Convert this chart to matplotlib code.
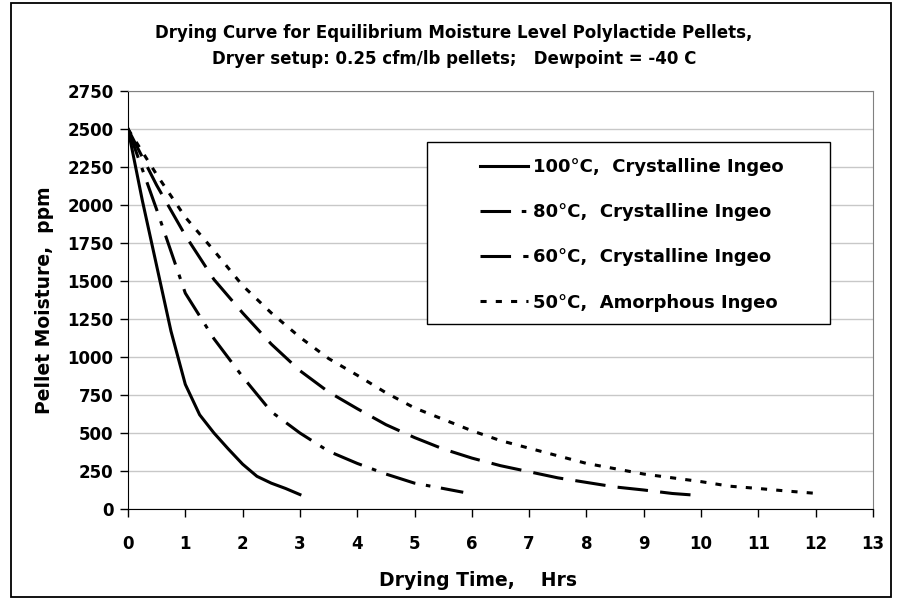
import matplotlib
matplotlib.use("Agg")
import matplotlib.pyplot as plt
from matplotlib.patches import Rectangle

plt.rcParams['font.family'] = ['DejaVu Sans']
plt.rcParams['font.weight'] = 'bold'

# drying time (hrs) and pellet moisture (ppm)
t_100 = [0, 0.25, 0.5, 0.75, 1.0, 1.25, 1.5, 1.75, 2.0, 2.25, 2.5, 2.75, 3.0]
m_100 = [2500, 2030, 1600, 1170, 820, 620, 500, 395, 295, 215, 170, 135, 95]

t_80 = [0, 0.5, 1.0, 1.5, 2.0, 2.5, 3.0, 3.5, 4.0, 4.5, 5.0, 5.5, 5.85]
m_80 = [2500, 1970, 1420, 1120, 870, 640, 500, 380, 300, 230, 170, 135, 110]

t_60 = [0, 0.5, 1.0, 1.5, 2.0, 2.5, 3.0, 3.5, 4.0, 4.5, 5.0, 5.5, 6.0, 6.5,
        7.0, 7.5, 8.0, 8.5, 9.0, 9.5, 10.0]
m_60 = [2500, 2130, 1800, 1510, 1290, 1085, 910, 770, 660, 555, 470, 395, 335,
        285, 245, 205, 175, 145, 125, 102, 88]

t_50 = [0, 0.5, 1.0, 1.5, 2.0, 2.5, 3.0, 3.5, 4.0, 4.5, 5.0, 5.5, 6.0, 6.5,
        7.0, 7.5, 8.0, 8.5, 9.0, 9.5, 10.0, 10.5, 11.0, 11.5, 12.0]
m_50 = [2500, 2200, 1920, 1700, 1470, 1290, 1130, 990, 880, 765, 665, 590, 515,
        450, 400, 350, 300, 265, 230, 205, 180, 150, 135, 118, 103]

labels = ['100°C,  Crystalline Ingeo', '80°C,  Crystalline Ingeo',
          '60°C,  Crystalline Ingeo', '50°C,  Amorphous Ingeo']

x_ticks = list(range(0, 14))
y_ticks = list(range(0, 2751, 250))

fig = plt.figure(figsize=(9.02, 6.0), dpi=100)
ax = fig.add_axes([128 / 902, 1 - 509 / 600, 745 / 902, 418 / 600])

lw = 2.2
ax.plot(t_100, m_100, color='black', lw=lw, label=labels[0])
ax.plot(t_80, m_80, color='black', lw=lw, dashes=(10, 3.5, 1.5, 3.5), label=labels[1])
ax.plot(t_60, m_60, color='black', lw=lw, dashes=(10, 4), label=labels[2])
ax.plot(t_50, m_50, color='black', lw=lw, dashes=(2, 3), label=labels[3])

ax.set_xlim(0, 13)
ax.set_ylim(0, 2750)
ax.set_xticks(x_ticks)
ax.set_yticks(y_ticks)
ax.tick_params(direction='out', length=5.5, width=1, labelsize=12)
ax.tick_params(axis='x', pad=13)
ax.tick_params(axis='y', pad=5)
for lab in ax.get_xticklabels() + ax.get_yticklabels():
    lab.set_fontweight('bold')

ax.yaxis.grid(True, color='#c8c8c8', lw=1)
ax.set_axisbelow(True)
for s in ['top', 'right']:
    ax.spines[s].set_color('#808080')
for s in ['left', 'bottom']:
    ax.spines[s].set_color('black')

ax.set_xlabel('Drying Time,    Hrs', fontsize=13.5, fontweight='bold')
ax.set_ylabel('Pellet Moisture,  ppm', fontsize=13.5, fontweight='bold')
ax.xaxis.set_label_coords((478 - 128) / 745, (509 - 581) / 418)
ax.xaxis.label.set_va('center')
ax.yaxis.set_label_coords((44 - 128) / 745, 0.5)
ax.yaxis.label.set_va('center')

fig.text(0.503, 1 - 46 / 600, 'Drying Curve for Equilibrium Moisture Level Polylactide Pellets,\n'
         'Dryer setup: 0.25 cfm/lb pellets;   Dewpoint = -40 C',
         ha='center', va='center', fontsize=12, fontweight='bold', linespacing=1.6)

# legend box
ax.add_patch(Rectangle((0.4013, 0.4426), 0.541, 0.4354, transform=ax.transAxes,
                       fill=True, fc='white', ec='black', lw=1, zorder=4))
leg = ax.legend(loc='upper left', bbox_to_anchor=(0.4725, 0.839), frameon=False,
                fontsize=13, handlelength=2.65, handletextpad=0.28, labelspacing=1.5,
                borderpad=0, borderaxespad=0)
leg.set_zorder(5)

fig.patches.append(Rectangle((11 / 902, 3 / 600), 880 / 902, 594 / 600,
                             transform=fig.transFigure, fill=False, ec='black', lw=1.3))

fig.savefig('out.png', dpi=100)
